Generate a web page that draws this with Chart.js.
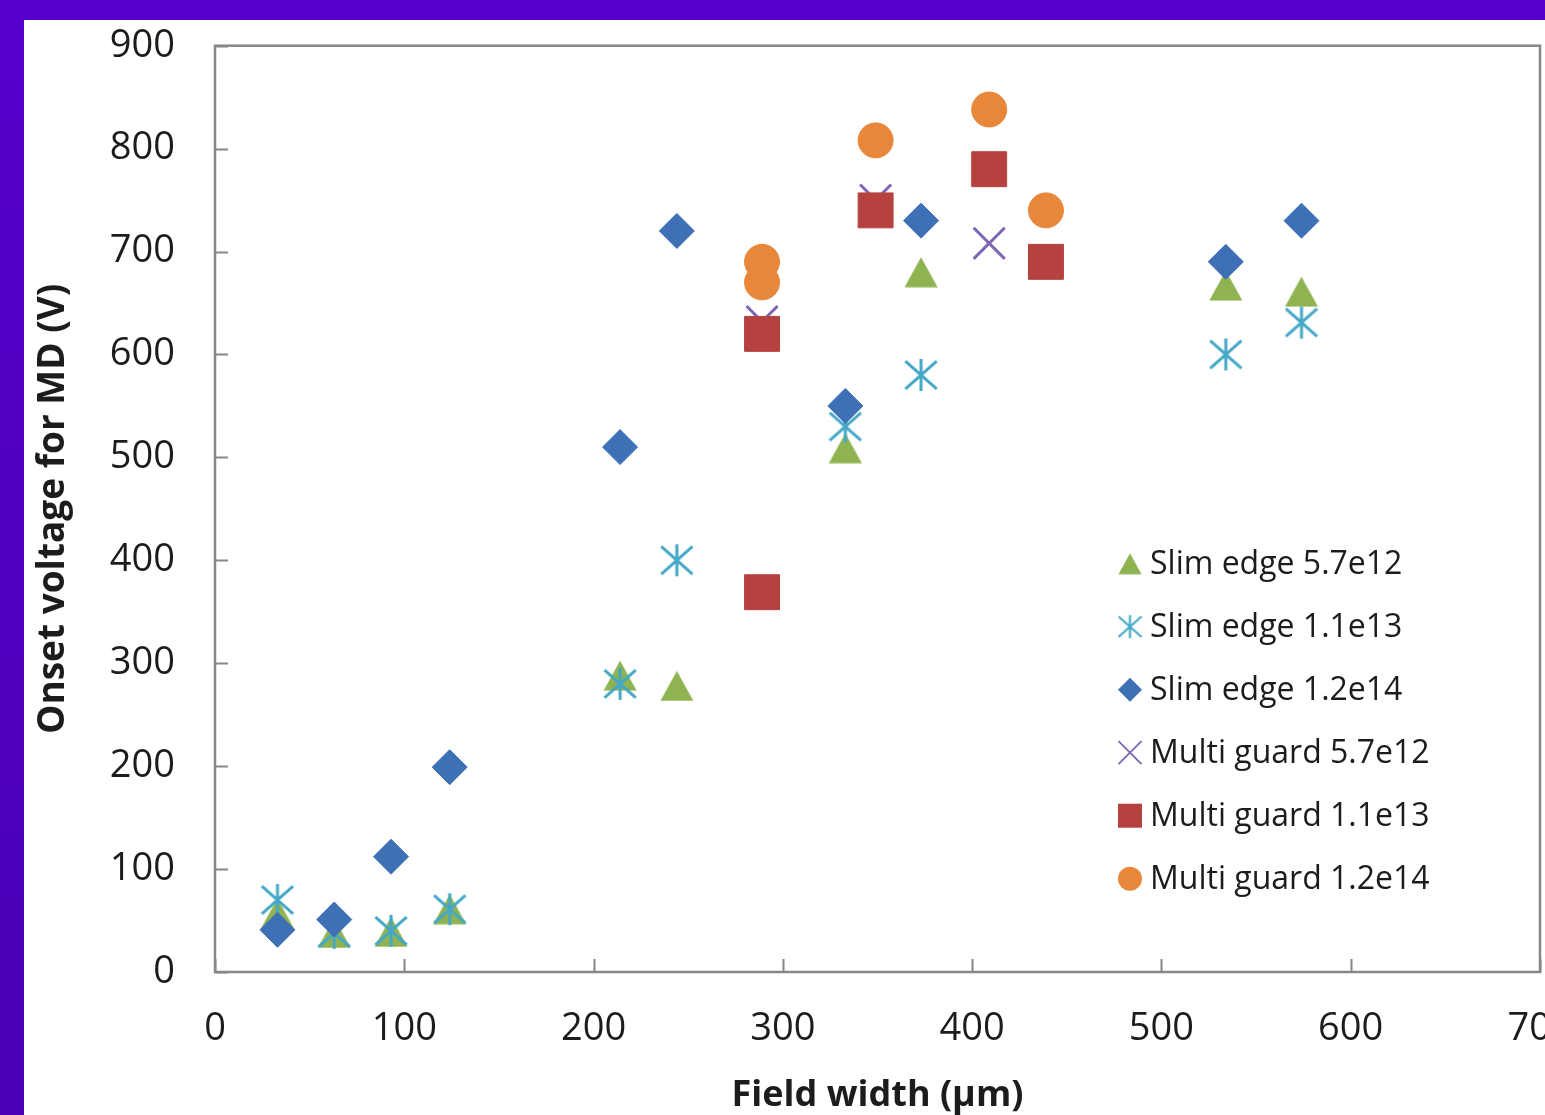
<!DOCTYPE html>
<html><head><meta charset="utf-8">
<script src="https://cdn.jsdelivr.net/npm/chart.js@4/dist/chart.umd.min.js"></script>
<style>
html,body{margin:0;padding:0;width:1545px;height:1115px;overflow:hidden;background:linear-gradient(180deg,#5600cc 0%,#4a00b4 100%);}
#wrap{position:absolute;left:24px;top:20px;width:1556px;height:1095px;background:#fff;}
canvas{display:block;}
</style></head><body>
<div id="wrap"><canvas id="c" width="1556" height="1095"></canvas></div>
<script>
// ---- data ----
const slimWidths   = [33, 63, 93, 124, 214, 244, 333, 373, 534, 574];
const slim57       = [57, 38, 39, 61, 288, 278, 509, 680, 667, 661];
const slim11       = [70, 38, 40, 61, 280, 400, 530, 580, 600, 631];
const slim12       = [41, 51, 112, 199, 510, 720, 550, 730, 690, 730];
const multiXWidths = [289, 349, 409];
const multi57      = [632, 750, 708];
const multiWidths  = [289, 289, 349, 409, 439];
const multi11      = [620, 369, 740, 780, 690];
const multi12      = [690, 670, 808, 838, 740];
const seriesLabels = ['Slim edge 5.7e12', 'Slim edge 1.1e13', 'Slim edge 1.2e14',
                      'Multi guard 5.7e12', 'Multi guard 1.1e13', 'Multi guard 1.2e14'];
const xTitle = 'Field width (µm)';
const yTitle = 'Onset voltage for MD (V)';
const xMin = 0, xMax = 700, xStep = 100;
const yMin = 0, yMax = 900, yStep = 100;

// ---- styles ----
const colors = ['#8fb351', '#44a8c6', '#3d70b4', '#7f66b2', '#b6423f', '#e8873a'];
const FONT = '"Open Sans", "DejaVu Sans", sans-serif';
const AXIS_COLOR = '#878787';

function makeTriangle(w, h, color) {
  const c = document.createElement('canvas'); c.width = w; c.height = h;
  const g = c.getContext('2d'); g.fillStyle = color;
  g.beginPath(); g.moveTo(w / 2, 0.5); g.lineTo(w - 0.5, h - 0.5); g.lineTo(0.5, h - 0.5); g.closePath(); g.fill();
  return c;
}
function makeAsterisk(s, color, lw) {
  const c = document.createElement('canvas'); c.width = s; c.height = s;
  const g = c.getContext('2d'); g.strokeStyle = color; g.lineWidth = lw; g.lineCap = 'butt';
  const m = s / 2, dx = s * 0.46, dy = s * 0.41;
  g.beginPath();
  g.moveTo(m, 1); g.lineTo(m, s - 1);
  g.moveTo(m - dx, m - dy); g.lineTo(m + dx, m + dy);
  g.moveTo(m + dx, m - dy); g.lineTo(m - dx, m + dy);
  g.stroke();
  return c;
}
const triImg = makeTriangle(34, 31, colors[0]);
const astImg = makeAsterisk(34, colors[1], 3);
const triImgS = makeTriangle(24, 22, colors[0]);
const astImgS = makeAsterisk(25, colors[1], 2.2);

const pts = (xs, ys) => xs.map((x, i) => ({ x: x, y: ys[i] }));

const datasets = [
  { label: seriesLabels[0], data: pts(slimWidths, slim57), pointStyle: triImg, order: 6 },
  { label: seriesLabels[1], data: pts(slimWidths, slim11), pointStyle: astImg, order: 5 },
  { label: seriesLabels[2], data: pts(slimWidths, slim12), pointStyle: 'rectRot', pointRadius: 17.5, order: 4 },
  { label: seriesLabels[3], data: pts(multiXWidths, multi57), pointStyle: 'crossRot', pointRadius: 22, pointBorderWidth: 3, order: 3 },
  { label: seriesLabels[4], data: pts(multiWidths, multi11), pointStyle: 'rect', pointRadius: 24.7, order: 2 },
  { label: seriesLabels[5], data: pts(multiWidths, multi12), pointStyle: 'circle', pointRadius: 17.5, order: 1 }
].map((d, i) => Object.assign({
  backgroundColor: colors[i], borderColor: colors[i],
  pointBackgroundColor: colors[i], pointBorderColor: colors[i],
  pointBorderWidth: d.pointBorderWidth || 1, pointRadius: d.pointRadius || 17,
  pointHoverRadius: d.pointRadius || 17, showLine: false
}, d));

// frame + inward ticks
const framePlugin = {
  id: 'frame',
  beforeDatasetsDraw(chart) {
    const { ctx, chartArea: a, scales } = chart;
    ctx.save();
    ctx.strokeStyle = AXIS_COLOR; ctx.lineWidth = 2;
    const TL = 13;
    ctx.beginPath();
    scales.x.ticks.forEach(t => {
      const px = Math.round(scales.x.getPixelForValue(t.value)) + 0.5;
      ctx.moveTo(px, a.bottom); ctx.lineTo(px, a.bottom - TL);
    });
    scales.y.ticks.forEach(t => {
      const py = Math.round(scales.y.getPixelForValue(t.value)) + 0.5;
      ctx.moveTo(a.left, py); ctx.lineTo(a.left + TL, py);
    });
    ctx.stroke();
    ctx.lineWidth = 2.5;
    ctx.strokeRect(a.left, a.top, a.right - a.left, a.bottom - a.top);
    ctx.restore();
  }
};

function drawLegendMarker(ctx, i, x, y) {
  ctx.fillStyle = colors[i]; ctx.strokeStyle = colors[i];
  if (i === 0) { ctx.drawImage(triImgS, x - triImgS.width / 2, y - triImgS.height / 2); return; }
  if (i === 1) { ctx.drawImage(astImgS, x - astImgS.width / 2, y - astImgS.height / 2); return; }
  ctx.beginPath();
  if (i === 2) { const r = 12; ctx.moveTo(x, y - r); ctx.lineTo(x + r, y); ctx.lineTo(x, y + r); ctx.lineTo(x - r, y); ctx.closePath(); ctx.fill(); }
  else if (i === 3) { const r = 11.5; ctx.lineWidth = 1.8; ctx.moveTo(x - r, y - r); ctx.lineTo(x + r, y + r); ctx.moveTo(x + r, y - r); ctx.lineTo(x - r, y + r); ctx.stroke(); }
  else if (i === 4) { ctx.fillRect(x - 12, y - 12, 24, 24); }
  else { ctx.arc(x, y, 12, 0, Math.PI * 2); ctx.fill(); }
}

const legendPlugin = {
  id: 'innerLegend',
  afterDatasetsDraw(chart) {
    const { ctx, chartArea: a } = chart;
    ctx.save();
    ctx.font = '32px ' + FONT;
    ctx.textBaseline = 'middle'; ctx.textAlign = 'left';
    const mx = a.left + 915, tx = a.left + 935, y0 = a.top + 518, dy = 63;
    chart.data.datasets.forEach((d, i) => {
      const y = y0 + i * dy;
      drawLegendMarker(ctx, i, mx, y);
      ctx.fillStyle = '#1c1c1c';
      ctx.fillText(d.label, tx, y + 1);
    });
    ctx.restore();
  }
};

new Chart(document.getElementById('c'), {
  type: 'scatter',
  data: { datasets },
  options: {
    responsive: false, animation: false, devicePixelRatio: 1,
    layout: { padding: { top: 25, right: 40, left: 0, bottom: 0 } },
    plugins: { legend: { display: false }, tooltip: { enabled: false } },
    scales: {
      x: {
        type: 'linear', min: xMin, max: xMax,
        ticks: { stepSize: xStep, padding: 0, color: '#1c1c1c', font: { family: FONT, size: 38 } },
        grid: { display: false, drawTicks: true, tickLength: 34 }, border: { display: false },
        title: { display: true, text: xTitle, color: '#1c1c1c', padding: { top: 0, bottom: 1 }, font: { family: FONT, size: 36, weight: 'bold', lineHeight: 1 } },
        afterFit(s) { s.height = 143; }
      },
      y: {
        type: 'linear', min: yMin, max: yMax,
        ticks: { stepSize: yStep, padding: 0, color: '#1c1c1c', font: { family: FONT, size: 38 } },
        grid: { display: false, drawTicks: true, tickLength: 40 }, border: { display: false },
        title: { display: true, text: yTitle, color: '#1c1c1c', padding: { top: 7, bottom: 0 }, font: { family: FONT, size: 37, weight: 'bold' } },
        afterFit(s) { s.width = 191; }
      }
    }
  },
  plugins: [framePlugin, legendPlugin]
});
</script>
</body></html>
